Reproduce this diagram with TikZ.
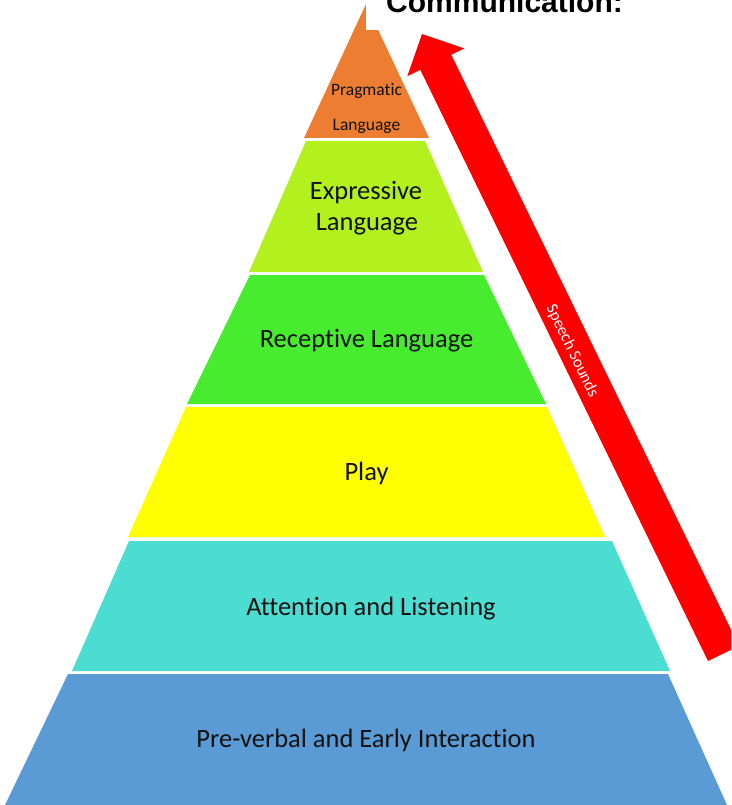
\documentclass[tikz,border=0pt]{standalone}
\usepackage{fontspec}
\newfontfamily\carl[Ligatures=CommonOff]{Carlito}
\newfontfamily\libsans{Liberation Sans}
\definecolor{cOrange}{HTML}{ED7D31}
\definecolor{cLime}{HTML}{B2F01E}
\definecolor{cGreen}{HTML}{47EC2E}
\definecolor{cYellow}{HTML}{FFFF00}
\definecolor{cCyan}{HTML}{4BDCD2}
\definecolor{cBlue}{HTML}{5B9BD5}
\definecolor{cRed}{HTML}{FF0000}
\definecolor{cText}{HTML}{111111}
\begin{document}
\begin{tikzpicture}[x=1pt,y=-1pt,
  lbl/.style={anchor=base,inner sep=0pt,text=cText,font=\carl\fontsize{26.5}{31}\selectfont},
  smalllbl/.style={anchor=base,inner sep=0pt,text=cText,font=\carl\fontsize{17.5}{20}\selectfont}]
\useasboundingbox (0,0) rectangle (731,805);
\clip (0,0) rectangle (731,805);
\fill[white] (0,0) rectangle (731,805);
% pyramid layers
\fill[cOrange] (366,4) -- (429,138) -- (304,138) -- cycle;
\fill[cLime] (306,141) -- (425,141) -- (483,272) -- (249,272) -- cycle;
\fill[cGreen] (250,275) -- (484,275) -- (546,404) -- (187,404) -- cycle;
\fill[cYellow] (186,407) -- (547,407) -- (605,537) -- (128,537) -- cycle;
\fill[cCyan] (129,541) -- (612,541) -- (670,671) -- (72,671) -- cycle;
\fill[cBlue] (68,674) -- (668,674) -- (727,805) -- (5,805) -- cycle;
% white band behind the title
\fill[white] (366,-10) rectangle (731,30);
\node[anchor=base west,inner sep=0pt,font=\libsans\bfseries\fontsize{30}{34}\selectfont] (title) at (386,12.5) {Communication:};
% arrow
\fill[cRed] (422,34) -- (464.3,48.4) -- (451.3,54.8) -- (739,646) -- (708,661) -- (420.3,69.8) -- (407.3,76.2) -- cycle;
\node[text=white,inner sep=0pt,rotate=-64.05,font=\carl\fontsize{16.5}{18}\selectfont] (speech) at (572,351) {Speech Sounds};
% labels
\node[smalllbl] (prag1) at (366.5,95.7) {Pragmatic};
\node[smalllbl] (prag2) at (366.5,130.7) {Language};
\node[lbl] (expr1) at (366,199.5) {Expressive};
\node[lbl] (expr2) at (367,230) {Language};
\node[lbl] (recep) at (366.5,347.5) {Receptive Language};
\node[lbl] (play) at (366.5,480.5) {Play};
\node[lbl] (att) at (371,615.5) {Attention and Listening};
\node[lbl] (pre) at (366,747) {Pre-verbal and Early Interaction};
\end{tikzpicture}
\end{document}
